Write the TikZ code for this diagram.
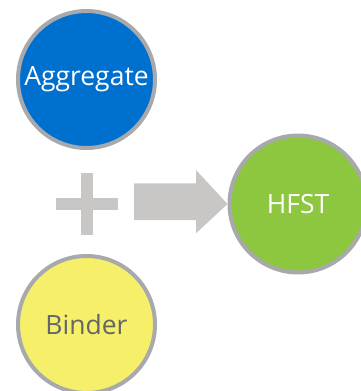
\documentclass[tikz,border=0pt]{standalone}
\usepackage{fontspec}
\setmainfont{Open Sans}
\usetikzlibrary{calc}
\definecolor{aggblue}{RGB}{0,112,206}
\definecolor{hfstgreen}{RGB}{141,198,63}
\definecolor{bindyellow}{RGB}{246,239,106}
\definecolor{ringgray}{RGB}{167,169,172}
\definecolor{symgray}{RGB}{200,199,197}
\definecolor{textgray}{RGB}{100,101,104}
\begin{document}
\begin{tikzpicture}[x=1pt,y=-1pt,
  ball/.style={circle,draw=ringgray,line width=4pt,minimum size=137pt,inner sep=0pt,
    font=\fontsize{26.5}{30}\selectfont},
  symb/.style={fill=symgray,draw=none}]
\useasboundingbox (0,0) rectangle (360,391);
\node[ball,fill=aggblue,text=white] (agg) at (86.5,79.5) {Aggregate};
\node[ball,fill=bindyellow,text=textgray] (bind) at (86.5,324.5) {Binder};
\node[ball,fill=hfstgreen,text=white] (hfst) at (298,204) {HFST};
\coordinate (plus) at (87,204);
\fill[symb] ($(plus)+(-31,-6)$) rectangle ($(plus)+(31,6)$);
\fill[symb] ($(plus)+(-6,-31)$) rectangle ($(plus)+(6,31)$);
\fill[symb] (134,183.3) -- (196,183.3) -- (196,170) -- (hfst.west) -- (196,233.3) -- (196,220) -- (134,220) -- cycle;
\end{tikzpicture}
\end{document}
